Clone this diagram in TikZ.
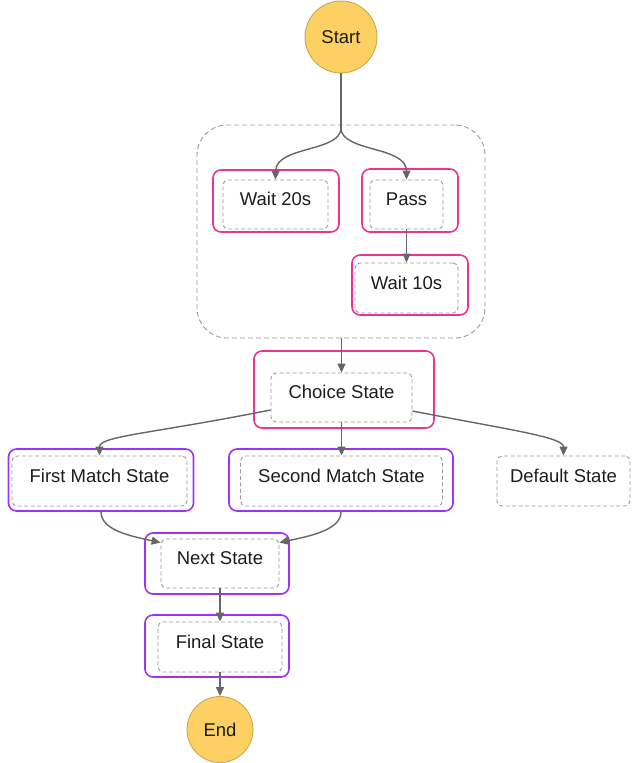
\documentclass[tikz,border=0pt]{standalone}
\usepackage{fontspec}
\setmainfont{Liberation Sans}
\usetikzlibrary{arrows.meta,calc}
\definecolor{hlpink}{HTML}{EC3394}
\definecolor{hlpurple}{HTML}{A032F5}
\definecolor{boxgray}{HTML}{9A9A9A}
\definecolor{linegray}{HTML}{666666}
\definecolor{termfill}{HTML}{FDD063}
\definecolor{termdraw}{HTML}{CFA64C}
\definecolor{txt}{HTML}{1C1C1C}
\tikzset{
  state/.style={draw=boxgray, dashed, dash pattern=on 4pt off 2.5pt, line width=0.9pt,
    rounded corners=5pt, inner sep=0pt, minimum height=49pt,
    text height=13pt, text depth=10.8pt, text=txt, font=\fontsize{18.5}{22}\selectfont},
  hlpinkbox/.style={draw=hlpink, line width=1.6pt, rounded corners=8pt, inner sep=0pt},
  hlpurplebox/.style={draw=hlpurple, line width=1.6pt, rounded corners=8pt, inner sep=0pt},
  parbox/.style={draw=boxgray, dashed, dash pattern=on 5pt off 3pt, line width=0.9pt,
    rounded corners=30pt, inner sep=0pt},
  terminal/.style={circle, draw=termdraw, fill=termfill, line width=0.9pt, inner sep=0pt,
    text=txt, font=\fontsize{18.5}{22}\selectfont},
  flow/.style={draw=linegray, line width=1.4pt,
    -{Triangle[length=9pt,width=8pt]}},
  flowplain/.style={draw=linegray, line width=1.4pt}
}
\begin{document}
\begin{tikzpicture}[x=1pt,y=-1pt]
\useasboundingbox (0,0) rectangle (634,763);

% start / end
\node[terminal, minimum size=72pt] (start) at (341,37) {Start};
\node[terminal, minimum size=66pt] (endst) at (220,729.5) {End};

% parallel branch container
\node[parbox, minimum width=288pt, minimum height=213pt] (par) at (341,231.5) {};

% highlight frames
\node[hlpinkbox, minimum width=126pt, minimum height=62pt] (w20o) at (276,201) {};
\node[hlpinkbox, minimum width=96pt, minimum height=63pt] (passo) at (410,200.5) {};
\node[hlpinkbox, minimum width=116pt, minimum height=60pt] (w10o) at (410,285) {};
\node[hlpinkbox, minimum width=180pt, minimum height=77pt] (choiceo) at (344,389.5) {};
\node[hlpurplebox, minimum width=185pt, minimum height=62pt] (firsto) at (101,480) {};
\node[hlpurplebox, minimum width=224pt, minimum height=62pt] (secondo) at (341,480) {};
\node[hlpurplebox, minimum width=144pt, minimum height=61pt] (nexto) at (217,563.5) {};
\node[hlpurplebox, minimum width=144pt, minimum height=62pt] (finalo) at (217,646) {};

% states
\node[state, minimum width=105pt] (w20) at (275.5,204.5) {Wait 20s};
\node[state, minimum width=73pt] (pass) at (406.5,204.5) {Pass};
\node[state, minimum width=103pt, minimum height=50pt] (w10) at (406.5,288) {Wait 10s};
\node[state, minimum width=141pt] (choice) at (341.5,397.5) {Choice State};
\node[state, minimum width=175pt, minimum height=50pt] (first) at (99.5,481) {First Match State};
\node[state, minimum width=202pt, minimum height=50pt] (second) at (341.5,481) {Second Match State};
\node[state, minimum width=133pt, minimum height=50pt] (dflt) at (563.5,481) {Default State};
\node[state, minimum width=118pt] (nxt) at (220,563.5) {Next State};
\node[state, minimum width=124pt, minimum height=50pt] (final) at (220,647) {Final State};

% fork into the parallel branches
\coordinate (fork) at (341,128);
\draw[flowplain] (start.south) -- (fork);
\draw[flow] (fork) .. controls (341,152) and (276,146) .. (w20.north);
\draw[flow] (fork) .. controls (341,152) and (406.5,146) .. (pass.north);
\draw[flow] (pass.south) -- (w10.north);

% into the choice
\draw[flow] (par.south -| choice.north) -- (choice.north);

% choice rules
\draw[flow] ($(choice.west)+(0,12.5)$) .. controls (150,434) and (99.5,436) .. (first.north);
\draw[flow] (choice.south) -- (second.north);
\draw[flow] ($(choice.east)+(0,13.5)$) .. controls (510,430) and (563.5,437) .. (dflt.north);

% merge into next state
\draw[flow] (firsto.south) .. controls (101,530) and (130,536) .. ($(nxt.north west)+(0,4)$);
\draw[flow] (secondo.south) .. controls (341,530) and (310,536) .. ($(nxt.north east)+(0,4)$);

% tail
\draw[flow] (nxt.south) -- (final.north);
\draw[flow] (final.south) -- (endst.north);
\end{tikzpicture}
\end{document}
